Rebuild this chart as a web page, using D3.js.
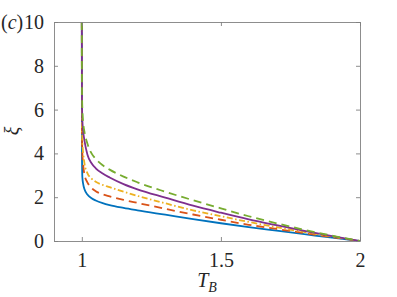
<!DOCTYPE html>
<meta charset="utf-8">
<style>
  body { margin: 0; background: #fff; }
  svg text { font-family: "Liberation Serif", "Times New Roman", Times, "DejaVu Serif", serif; fill: #262626; }
</style>
<svg width="397" height="297"></svg>
<script src="https://cdnjs.cloudflare.com/ajax/libs/d3/7.8.5/d3.min.js"></script>
<script>
// values
var tB = [1.0, 1.0005, 1.002, 1.005, 1.01, 1.02, 1.035, 1.05, 1.075, 1.1, 1.15, 1.2, 1.3, 1.4, 1.5, 1.6, 1.7, 1.8, 1.9, 2.0];
var xiBlue   = [10, 4.0, 2.9, 2.6, 2.35, 2.12, 1.95, 1.85, 1.73, 1.64, 1.51, 1.40, 1.20, 1.00, 0.81, 0.63, 0.47, 0.31, 0.15, 0];
var xiRed    = [10, 5.0, 4.0, 3.45, 3.0, 2.68, 2.42, 2.27, 2.13, 2.04, 1.88, 1.74, 1.47, 1.21, 0.97, 0.74, 0.55, 0.36, 0.18, 0];
var xiYellow = [10, 5.5, 4.5, 4.0, 3.5, 3.1, 2.85, 2.7, 2.56, 2.46, 2.25, 2.06, 1.72, 1.40, 1.13, 0.87, 0.63, 0.41, 0.2, 0];
var xiPurple = [10, 6.5, 5.5, 5.0, 4.55, 3.95, 3.55, 3.32, 3.08, 2.9, 2.6, 2.36, 1.98, 1.61, 1.29, 0.99, 0.72, 0.46, 0.22, 0];
var xiGreen  = [10, 7.0, 6.0, 5.4, 4.95, 4.45, 4.0, 3.75, 3.46, 3.26, 2.94, 2.68, 2.25, 1.86, 1.49, 1.13, 0.81, 0.51, 0.24, 0];
var xTicks = [1, 1.5, 2];
var yTicks = [0, 2, 4, 6, 8, 10];

var series = [
  {name: "blue",   values: xiBlue,   color: "#0072BD", dash: null},
  {name: "red",    values: xiRed,    color: "#D95319", dash: "8,5"},
  {name: "yellow", values: xiYellow, color: "#EDB120", dash: "6,2.5,1.5,2.5"},
  {name: "purple", values: xiPurple, color: "#7E2F8E", dash: null},
  {name: "green",  values: xiGreen,  color: "#77AC30", dash: "8,5"}
];

var svg = d3.select("svg");
var mLeft = 54, mRight = 360, mTop = 22, mBottom = 241;

var x = d3.scaleLinear().domain([0.9, 2]).range([mLeft, mRight]);
var y = d3.scaleLinear().domain([0, 10]).range([mBottom, mTop]);

svg.append("defs").append("clipPath").attr("id", "plot")
  .append("rect").attr("x", mLeft).attr("y", mTop)
  .attr("width", mRight - mLeft).attr("height", mBottom - mTop);

var line = d3.line()
  .x(function(d) { return x(d[0]); })
  .y(function(d) { return y(d[1]); })
  .curve(d3.curveMonotoneX);

var g = svg.append("g").attr("clip-path", "url(#plot)");
series.forEach(function(s) {
  g.append("path")
    .datum(tB.map(function(t, i) { return [t, s.values[i]]; }))
    .attr("d", line)
    .attr("fill", "none")
    .attr("stroke", s.color)
    .attr("stroke-width", 1.8)
    .attr("stroke-dasharray", s.dash);
});

// box with inward ticks on all four sides
var tickLen = 4;
var axisColor = "#808080";
svg.append("g").attr("transform", "translate(0," + mBottom + ")")
  .call(d3.axisBottom(x).tickValues(xTicks).tickSizeInner(-tickLen).tickSizeOuter(0).tickFormat(d3.format("")).tickPadding(12));
svg.append("g").attr("transform", "translate(0," + mTop + ")")
  .call(d3.axisTop(x).tickValues(xTicks).tickSizeInner(-tickLen).tickSizeOuter(0).tickFormat(""));
svg.append("g").attr("transform", "translate(" + mLeft + ",0)")
  .call(d3.axisLeft(y).tickValues(yTicks).tickSizeInner(-tickLen).tickSizeOuter(0).tickPadding(10));
svg.append("g").attr("transform", "translate(" + mRight + ",0)")
  .call(d3.axisRight(y).tickValues(yTicks).tickSizeInner(-tickLen).tickSizeOuter(0).tickFormat(""));

svg.selectAll(".domain, .tick line").attr("stroke", axisColor).attr("stroke-width", 0.9);
svg.selectAll(".tick text")
  .attr("font-family", null)
  .attr("font-size", 20)
  .attr("fill", "#262626");

// labels
svg.append("text")
  .attr("x", 207).attr("y", 287)
  .attr("text-anchor", "middle")
  .attr("font-size", 20)
  .html('<tspan font-style="italic">T</tspan><tspan font-style="italic" font-size="14" dy="5">B</tspan>');

svg.append("text")
  .attr("transform", "translate(19,131) rotate(-90)")
  .attr("text-anchor", "middle")
  .attr("font-size", 20)
  .attr("font-style", "italic")
  .text("ξ");

svg.append("text")
  .attr("x", 1).attr("y", 29)
  .attr("font-size", 20)
  .html('(<tspan font-style="italic">c</tspan>)');
</script>
